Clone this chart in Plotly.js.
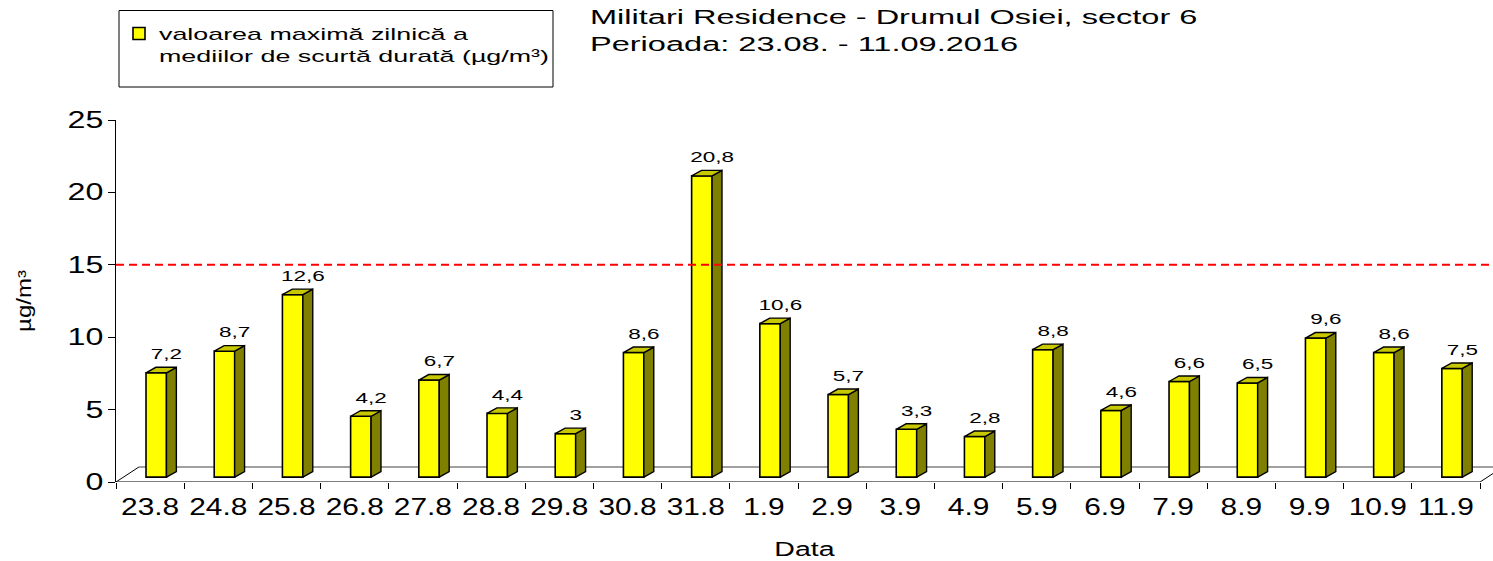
<!DOCTYPE html>
<html><head><meta charset="utf-8">
<script src="https://cdn.plot.ly/plotly-3.0.1.min.js"></script>
<style>html,body{margin:0;padding:0;background:#fff}#chart{width:1493px;height:561px}</style>
</head><body><div id="chart"></div>
<script>
// ---- data ----
const categories = ['23.8','24.8','25.8','26.8','27.8','28.8','29.8','30.8','31.8','1.9','2.9','3.9','4.9','5.9','6.9','7.9','8.9','9.9','10.9','11.9'];
const values = [7.2, 8.7, 12.6, 4.2, 6.7, 4.4, 3, 8.6, 20.8, 10.6, 5.7, 3.3, 2.8, 8.8, 4.6, 6.6, 6.5, 9.6, 8.6, 7.5];
const limitValue = 15;
const seriesName = 'valoarea maximă zilnică a<br>mediilor de scurtă durată (µg/m³)';
const titleLines = ['Militari Residence - Drumul Osiei, sector 6', 'Perioada: 23.08. - 11.09.2016'];
const yTitle = 'µg/m³';
const xTitle = 'Data';

// ---- pseudo-3D geometry (in axis units) ----
const FONT = 'Liberation Sans, Arial, sans-serif';
const SHIFT = 0.09, BW = 0.30, BASE = 0.34, DX = 0.145, DY = 0.38;
const FLOOR_DX = 0.337, FLOOR_DY = 1.04;
const N = categories.length;
const XMIN = -0.5, XEND = N - 0.5, XMAX = XEND + 0.19;

const idx = categories.map((c, i) => i);

const sideX = [], sideY = [], topX = [], topY = [];
values.forEach((v, i) => {
  const x0 = i + SHIFT - BW / 2, x1 = i + SHIFT + BW / 2;
  const b = BASE, t = BASE + v;
  sideX.push(x1, x1 + DX, x1 + DX, x1, x1, null);
  sideY.push(b, b + DY, t + DY, t, b, null);
  topX.push(x0, x1, x1 + DX, x0 + DX, x0, null);
  topY.push(t, t, t + DY, t + DY, t, null);
});

const traces = [
  {
    type: 'bar', name: seriesName,
    x: idx.map(i => i + SHIFT), y: values, base: BASE, width: BW,
    marker: {color: '#ffff00', line: {color: '#000000', width: 1.6}},
    hoverinfo: 'skip'
  },
  {
    type: 'scatter', mode: 'lines', x: sideX, y: sideY, fill: 'toself',
    fillcolor: '#808000', line: {color: '#000000', width: 1.4},
    showlegend: false, hoverinfo: 'skip'
  },
  {
    type: 'scatter', mode: 'lines', x: topX, y: topY, fill: 'toself',
    fillcolor: '#c8c800', line: {color: '#000000', width: 1.4},
    showlegend: false, hoverinfo: 'skip'
  },
  {
    type: 'scatter', mode: 'text',
    x: idx.map(i => i + SHIFT + 0.15),
    y: values.map(v => v + BASE + 1.2),
    text: values.map(v => String(v).replace('.', ',')),
    textposition: 'middle center',
    textfont: {family: FONT, size: 15, color: '#000'},
    showlegend: false, hoverinfo: 'skip', cliponaxis: false
  }
];

// plot area in pixels (for paper-referenced decorations)
const ML = 116, MR = 0, MT = 120, MB = 79, W = 1493, H = 561;
const PW = W - ML - MR, PH = H - MT - MB;
const px2paperX = p => (p - ML) / PW;
const px2paperY = p => (H - MB - p) / PH;

const shapes = [
  // floor
  {type: 'line', xref: 'x', yref: 'y', layer: 'below', x0: XMIN, y0: 0, x1: XMIN + FLOOR_DX, y1: FLOOR_DY, line: {color: '#000', width: 1}},
  {type: 'line', xref: 'x', yref: 'y', layer: 'below', x0: XMIN + FLOOR_DX, y0: FLOOR_DY, x1: XMAX, y1: FLOOR_DY, line: {color: '#808080', width: 1.5}},
  {type: 'line', xref: 'x', yref: 'y', layer: 'below', x0: XEND, y0: 0, x1: XMAX, y1: FLOOR_DY * (XMAX - XEND) / FLOOR_DX, line: {color: '#000', width: 1}},
  {type: 'line', xref: 'x', yref: 'y', layer: 'below', x0: XMIN, y0: 0, x1: XEND, y1: 0, line: {color: '#000', width: 1.2}},
  // limit line
  {type: 'line', xref: 'paper', yref: 'y', layer: 'above', x0: 0, x1: 1, y0: limitValue, y1: limitValue, line: {color: '#ff0000', width: 2, dash: '8px,5px'}},
  // legend frame
  {type: 'rect', xref: 'paper', yref: 'paper', layer: 'above',
   x0: px2paperX(119), x1: px2paperX(553), y0: px2paperY(87), y1: px2paperY(10.5),
   line: {color: '#000', width: 1}, fillcolor: 'rgba(0,0,0,0)'}
];

const layout = {
  width: W, height: H,
  margin: {l: ML, r: MR, t: MT, b: MB},
  paper_bgcolor: '#fff', plot_bgcolor: '#fff',
  font: {family: FONT, color: '#000'},
  showlegend: true,
  title: {
    text: titleLines.join('<br>'),
    x: 590 / W, xanchor: 'left', xref: 'container',
    y: 1 - 24 / H, yanchor: 'top', yref: 'container',
    font: {family: FONT, size: 21, color: '#000'}
  },
  legend: {
    x: px2paperX(119), xanchor: 'left', y: px2paperY(16), yanchor: 'top',
    borderwidth: 0, bgcolor: 'rgba(0,0,0,0)', valign: 'top',
    font: {family: FONT, size: 17, color: '#000'}
  },
  xaxis: {
    range: [XMIN, XMAX], showgrid: false, zeroline: false, showline: false,
    tickmode: 'array', tickvals: idx, ticktext: categories, ticks: '',
    ticklabelstandoff: 9,
    tickfont: {family: FONT, size: 23, color: '#000'},
    minor: {tickmode: 'array', tickvals: idx.map(i => i - 0.5).concat([XEND]), ticks: 'outside', ticklen: 6, tickcolor: '#000', tickwidth: 1, showgrid: false},
    title: {text: xTitle, font: {family: FONT, size: 21, color: '#000'}, standoff: 22},
    fixedrange: true
  },
  yaxis: {
    range: [0, 25], dtick: 5, tick0: 0, showgrid: false, zeroline: false,
    showline: true, linecolor: '#000', linewidth: 1,
    ticks: 'outside', ticklen: 7, tickcolor: '#000',
    tickfont: {family: FONT, size: 23, color: '#000'},
    title: {text: yTitle, font: {family: FONT, size: 20, color: '#000'}, standoff: 40},
    fixedrange: true
  },
  shapes: shapes,
  bargap: 0
};

// horizontal stretch of text glyphs (the reference uses wide lettering)
const STRETCH = [
  ['.gtitle', 1.55],
  ['.legendtext', 1.58],
  ['.xtick text', 1.3],
  ['.ytick text', 1.4],
  ['.xtitle', 1.36],
  ['.ytitle', 1.2],
  ['.textpoint text', 1.5]
];

function stretchTexts(gd) {
  STRETCH.forEach(([sel, s]) => {
    gd.querySelectorAll(sel).forEach(el => {
      const ax = parseFloat(el.getAttribute('x')) || 0;
      const t = el.getAttribute('transform') || '';
      el.setAttribute('transform', (t + ' translate(' + ax + ',0) scale(' + s + ',1) translate(' + (-ax) + ',0)').trim());
    });
  });
  // the legend clips to its pre-stretch size; lift that clip
  gd.querySelectorAll('.legend, .legend [clip-path]').forEach(el => el.removeAttribute('clip-path'));
}

Plotly.newPlot('chart', traces, layout, {displayModeBar: false, staticPlot: true})
  .then(gd => stretchTexts(gd));
</script>
</body></html>
